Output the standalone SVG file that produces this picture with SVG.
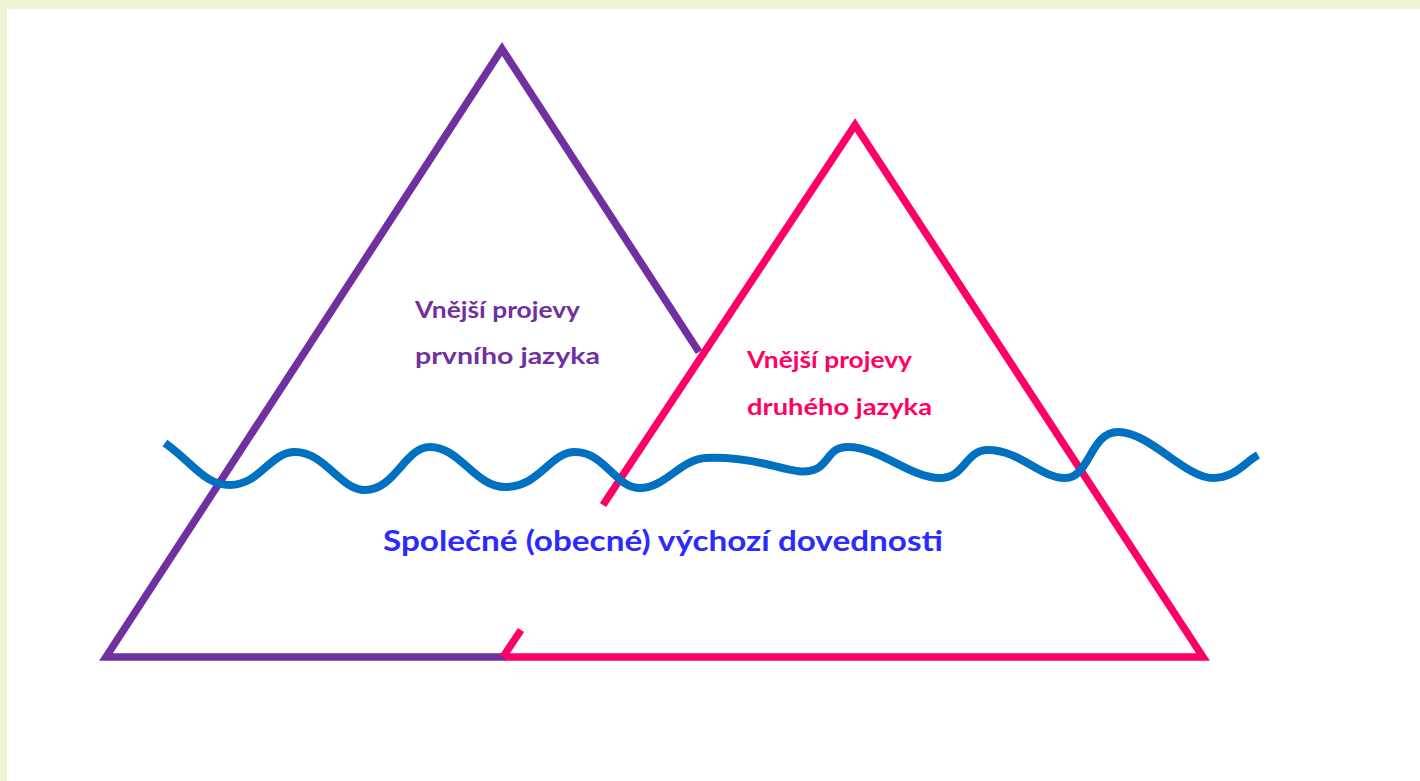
<svg xmlns="http://www.w3.org/2000/svg" width="1420" height="781" viewBox="0 0 1420 781">
<style>
.tri{fill:none;stroke-width:7.5;stroke-linejoin:miter;stroke-linecap:butt}
.p{stroke:#7030A0}
.k{stroke:#FF0066}
.t{font-family:"Lato","Liberation Sans",sans-serif;font-weight:bold}
</style>
<rect x="0" y="0" width="1420" height="781" fill="#FFFFFF"/>
<rect x="0" y="0" width="1420" height="9" fill="#EFF5D3"/>
<rect x="0" y="0" width="7" height="781" fill="#EFF5D3"/>
<g id="triangle-first">
<polyline class="tri p" points="699,352 502,49 106,657 506,657"/>
</g>
<g id="triangle-second">
<polyline class="tri k" points="603,505 855,125 1203,657 504,657"/>
<line class="tri k" x1="521" y1="630" x2="503" y2="657"/>
</g>
<g id="wave">
<path d="M165,443 C195,465 205,485 230,485 C260,485 270,452 295,452 C325,452 340,490 365,490 C395,490 405,447 430,447 C460,447 475,487 505,487 C540,487 550,452 575,452 C605,452 615,488 640,488 C665,488 680,460 705,458 C730,457 750,460 770,465 C790,470 805,475 818,468 C830,460 830,447 848,447 C880,447 910,478 940,478 C965,478 965,450 988,450 C1020,450 1040,478 1065,478 C1090,478 1090,432 1118,432 C1150,432 1185,478 1213,478 C1235,478 1245,462 1258,455" fill="none" stroke="#0070C0" stroke-width="8" stroke-linecap="butt"/>
</g>
<g id="label-first">
<text class="t" x="415" y="318" font-size="22" fill="#7030A0" textLength="165" lengthAdjust="spacingAndGlyphs">Vnější projevy</text>
<text class="t" x="415" y="364" font-size="22" fill="#7030A0" textLength="185" lengthAdjust="spacingAndGlyphs">prvního jazyka</text>
</g>
<g id="label-second">
<text class="t" x="747" y="368" font-size="22" fill="#FF0066" textLength="165" lengthAdjust="spacingAndGlyphs">Vnější projevy</text>
<text class="t" x="747" y="415" font-size="22" fill="#FF0066" textLength="185" lengthAdjust="spacingAndGlyphs">druhého jazyka</text>
</g>
<g id="label-common">
<text class="t" x="383" y="551" font-size="29" fill="#2B2BFF" textLength="560" lengthAdjust="spacingAndGlyphs">Společné (obecné) výchozí dovednosti</text>
</g>
</svg>
